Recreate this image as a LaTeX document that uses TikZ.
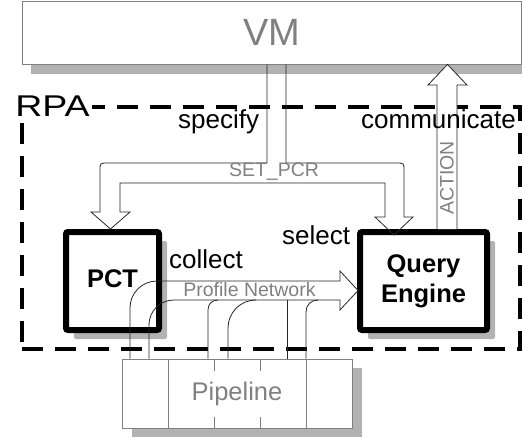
\documentclass[tikz,border=0pt]{standalone}
\usepackage{fontspec}
\usepackage{graphicx}
\setmainfont{Liberation Sans}
\usetikzlibrary{shadows,calc}
\definecolor{shd}{gray}{0.70}
\definecolor{txtgray}{gray}{0.5}
\begin{document}
\begin{tikzpicture}[x=1pt,y=-1pt,
  fs/.style={font=\fontsize{#1}{#1}\selectfont},
  shadowed/.style n args={2}{general shadow={fill=shd, shadow xshift=#1pt, shadow yshift=-#2pt}},
  graybox/.style={draw=txtgray, fill=white, line width=1pt, inner sep=0pt},
  blackbox/.style={draw=black, fill=white, line width=6pt, rounded corners=2pt, inner sep=0pt, font=\bfseries\fontsize{25.5}{30}\selectfont, align=center},
  lbl/.style={inner sep=0pt, fs=26, anchor=base west},
  glbl/.style={inner sep=0pt, text=txtgray, fs=19.5},
  conn/.style={draw=black!85, line width=0.8pt},
  blockarrow/.style={draw=black!85, line width=0.8pt, line join=miter},
]
\useasboundingbox (0,0) rectangle (522,437);

% RPA region
\node[draw=black, line width=3.3pt, dash pattern=on 21pt off 12pt, minimum width=498pt, minimum height=242pt, inner sep=0pt] (rpa) at (271,228) {};
\node[fill=white, inner sep=2pt, fs=30, anchor=base] (rpalbl) at (52.5,116) {\scalebox{1.25}[1]{RPA}};

% main boxes
\node[graybox, shadowed={9}{10}, minimum width=499pt, minimum height=63pt, text=txtgray, fs=38] (vm) at (271.5,32.5) {VM};
\node[blackbox, shadowed={8}{9}, minimum width=93pt, minimum height=98pt] (pct) at (112.5,281) {\raisebox{3pt}[18pt][0pt]{PCT}};
\node[blackbox, shadowed={8}{9}, minimum width=127pt, minimum height=98pt] (qe) at (423.5,281) {Query\\Engine};

% pipeline
\node[graybox, shadowed={10}{9}, minimum width=230pt, minimum height=69pt] (pipe) at (237,393.5) {};
\foreach \x in {168,214,260,306}
  \draw[draw=txtgray, line width=1pt] (pipe.north -| \x,0) -- (pipe.south -| \x,0);
\node[fill=white, text=txtgray, fs=25.5, inner xsep=1pt, inner ysep=0pt, minimum height=46pt] (pipelbl) at (pipe.center) {Pipeline};

% SET_PCR split arrow
\draw[blockarrow] (vm.south -| 267,0) -- (267,163) -- (108,163) .. controls (100,163) .. (100,171)
  -- (100,212) -- (91,212) -- (pct.north -| 110.5,0) -- (130,212) -- (120,212)
  -- (120,183) -- (385,183) -- (385,217) -- (375,217) -- ($(qe.north -| 394,0)+(0,6)$)
  -- (413,217) -- (404,217) -- (404,171) .. controls (404,163) .. (396,163)
  -- (286,163) -- (vm.south -| 286,0);
\node[glbl] (setpcr) at (274,172) {SET\_PCR};

% ACTION arrow
\draw[blockarrow, fill=white] (qe.north -| 437,0) -- (437,85) -- (428,85) -- (vm.south -| 447.5,0)
  -- (467,85) -- (457,85) -- (qe.north -| 457,0);
\node[glbl, rotate=90] (actlbl) at (447,178) {ACTION};

% Profile Network arrow with collecting lines
\draw[blockarrow] (pipe.north -| 130,0) -- (130,308) .. controls (130,293) and (142,281) .. (157,281)
  -- (340,281) -- (340,271) -- ($(qe.west)+(1,9.5)$) -- (340,310) -- (340,300)
  -- (174,300) .. controls (160,300) and (149,311) .. (149,325) -- (pipe.north -| 149,0);
\draw[conn] (pipe.north -| 208,0) -- (208,310) .. controls (208,304) and (212,300) .. (218,300);
\draw[conn] (pipe.north -| 228,0) -- (228,328) .. controls (228,313) and (240,300) .. (256,300);
\draw[conn] (pipe.north -| 287,0) -- (287,300);
\draw[conn] (pipe.north -| 306,0) -- (306,312) .. controls (306,305) and (311,300) .. (318,300);
\node[glbl] (pnlbl) at (249.5,290) {Profile Network};

% verb labels
\node[lbl] (specify) at (178,128) {specify};
\node[lbl] (communicate) at (361,128) {communicate};
\node[lbl] (collect) at (169,268) {collect};
\node[lbl] (select) at (282,244) {select};
\end{tikzpicture}
\end{document}
